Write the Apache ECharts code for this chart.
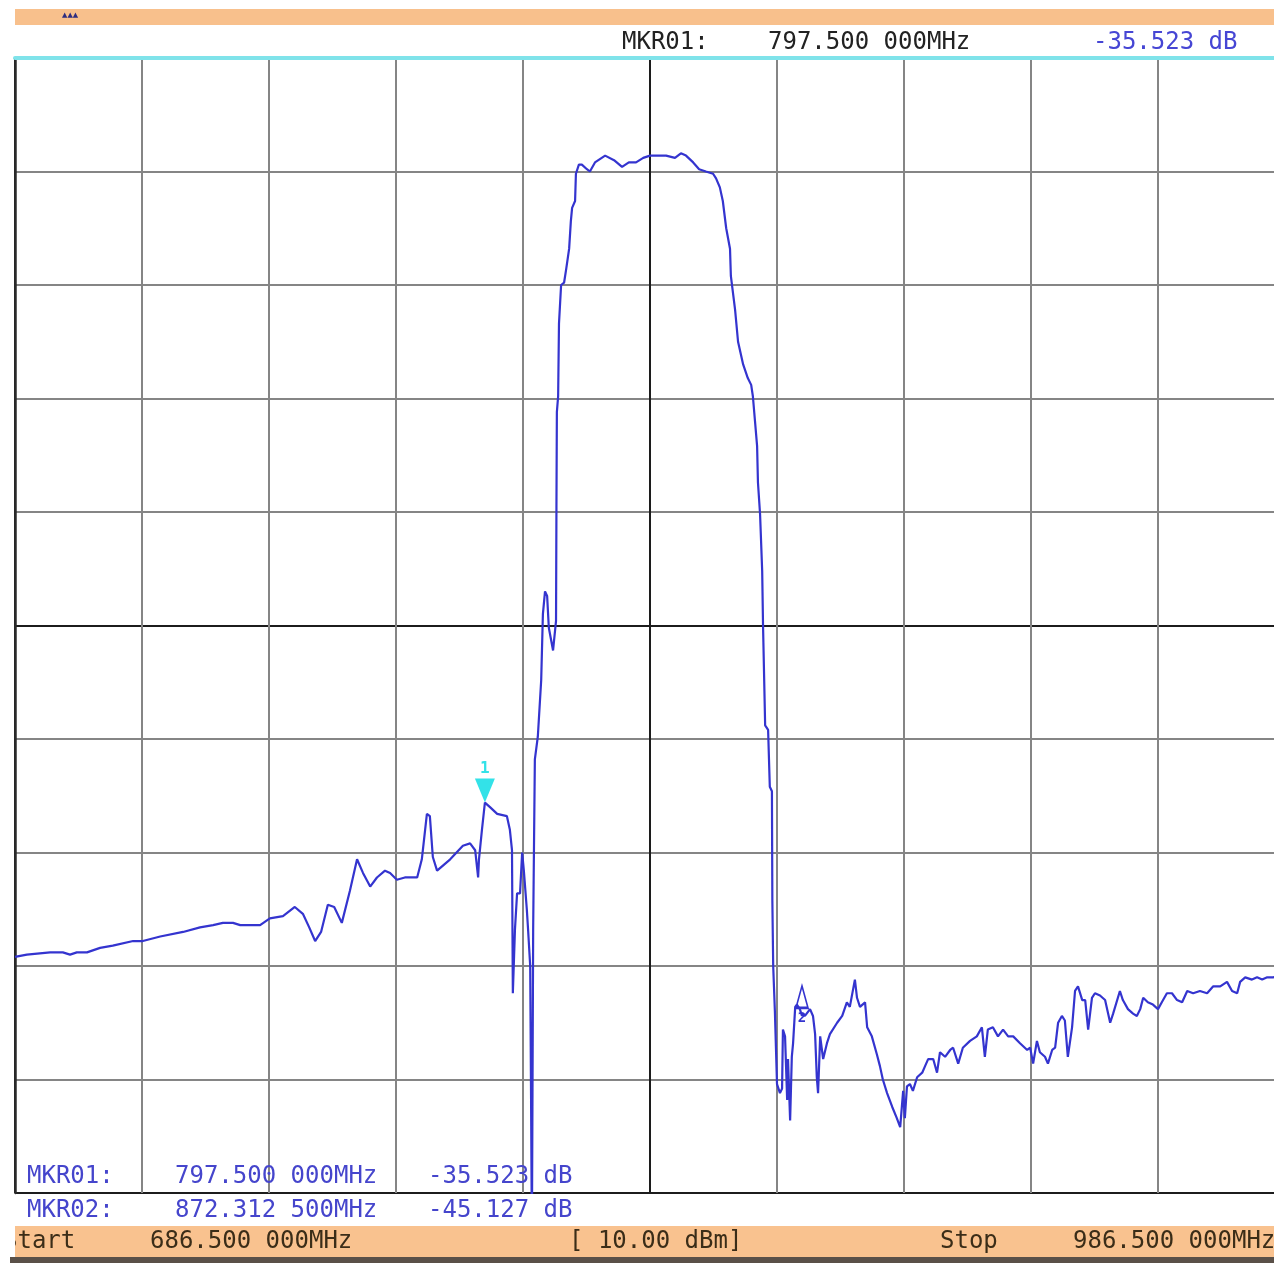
<!DOCTYPE html>
<html><head><meta charset="utf-8">
<script src="https://cdn.jsdelivr.net/npm/echarts/dist/echarts.min.js"></script>
<style>html,body{margin:0;padding:0;background:#fff;overflow:hidden}#c{width:1274px;height:1263px}</style>
</head><body><div id="c"></div>
<script>
// Trace (frequency in MHz, level in dB)
const freqMHz = [
686.5,689.3,694.8,697.8,699.5,701.1,703.5,706.6,709.6,714.4,
716.7,720.8,726.2,730.2,733.3,735.6,738.0,739.7,744.4,746.7,
749.8,752.6,754.5,756.0,757.4,758.8,760.4,761.9,763.7,765.6,
767.3,768.7,770.4,772.0,773.9,775.1,776.7,778.6,781.5,782.6,
783.8,784.5,785.2,786.2,789.3,792.3,794.0,795.2,795.9,796.1,
796.8,797.5,798.7,800.4,802.7,803.4,803.9,804.1,804.6,805.1,
805.8,806.3,806.7,807.4,807.7,808.2,808.4,808.6,808.9,809.3,
810.0,810.8,811.2,811.7,812.2,812.6,813.6,814.3,814.4,814.5,
814.8,815.0,815.5,816.2,816.7,817.4,817.8,818.1,818.8,819.0,
819.7,820.4,821.6,822.3,823.5,825.9,828.0,829.9,831.5,833.2,
834.9,836.5,840.3,842.4,843.8,845.0,846.7,848.1,849.7,851.4,
852.1,853.0,853.7,854.5,855.4,855.6,856.6,857.3,858.5,859.6,
860.4,860.8,861.3,861.8,862.0,862.5,863.0,863.2,863.7,864.4,
864.8,865.3,865.4,865.6,866.0,866.5,867.2,867.7,867.9,868.4,
868.9,869.1,869.6,870.0,870.3,870.8,871.2,871.9,872.4,872.6,
873.1,874.3,875.0,875.5,875.9,876.2,876.7,877.4,878.3,879.0,
880.7,881.9,883.0,883.7,884.9,885.4,886.1,887.3,887.8,888.9,
890.1,890.8,891.5,892.5,893.7,894.8,895.6,896.3,896.7,897.2,
897.9,898.6,899.6,900.8,901.5,902.2,903.4,904.3,905.0,906.2,
907.4,908.1,909.3,910.4,912.1,913.7,914.9,915.6,916.3,917.5,
918.7,919.9,921.1,922.3,923.9,925.6,926.3,927.0,927.9,928.6,
929.8,930.5,931.5,932.2,932.9,933.8,934.5,935.2,936.2,936.9,
937.6,938.6,939.3,940.0,940.9,941.6,942.8,944.0,945.2,945.9,
947.5,948.2,949.4,950.6,951.5,952.3,953.0,954.1,955.3,956.5,
957.4,958.6,959.8,961.0,962.2,963.4,964.8,966.4,968.1,969.5,
971.2,972.8,974.0,975.2,975.9,977.1,978.7,979.9,981.1,982.3,
983.7,986.5
];
const levelDb = [
-39.6,-39.5,-39.4,-39.4,-39.5,-39.4,-39.4,-39.2,-39.1,-38.9,
-38.9,-38.7,-38.5,-38.3,-38.2,-38.1,-38.1,-38.2,-38.2,-37.9,
-37.8,-37.4,-37.7,-38.3,-38.9,-38.5,-37.3,-37.4,-38.1,-36.7,
-35.3,-35.9,-36.5,-36.1,-35.8,-35.9,-36.2,-36.1,-36.1,-35.3,
-33.3,-33.4,-35.2,-35.8,-35.3,-34.7,-34.6,-34.9,-36.1,-35.3,
-34.0,-32.8,-33.0,-33.3,-33.4,-34.0,-34.9,-41.2,-38.4,-36.8,
-36.8,-35.0,-35.8,-37.5,-38.4,-40.0,-45.7,-52.0,-38.4,-30.9,
-29.9,-27.4,-24.5,-23.5,-23.7,-25.1,-26.1,-24.8,-19.8,-15.6,
-14.9,-11.7,-10.0,-9.9,-9.3,-8.4,-7.2,-6.6,-6.3,-5.1,
-4.7,-4.7,-4.9,-5.0,-4.6,-4.3,-4.5,-4.8,-4.6,-4.6,
-4.4,-4.3,-4.3,-4.4,-4.2,-4.3,-4.6,-4.9,-5.0,-5.1,
-5.3,-5.7,-6.3,-7.5,-8.4,-9.6,-11.1,-12.5,-13.5,-14.1,
-14.4,-14.9,-16.0,-17.1,-18.7,-20.1,-22.6,-25.0,-29.4,-29.6,
-32.1,-32.3,-37.1,-40.0,-42.0,-45.2,-45.6,-45.4,-42.8,-43.1,
-45.9,-44.1,-46.8,-44.0,-43.4,-41.8,-41.7,-41.9,-42.2,-42.1,
-42.2,-41.9,-42.2,-43.0,-44.9,-45.6,-43.1,-44.1,-43.4,-43.0,
-42.5,-42.2,-41.6,-41.8,-40.6,-41.4,-41.8,-41.6,-42.7,-43.1,
-43.9,-44.4,-45.0,-45.6,-46.2,-46.7,-47.1,-45.5,-46.7,-45.3,
-45.2,-45.5,-44.9,-44.7,-44.4,-44.1,-44.1,-44.7,-43.8,-44.0,
-43.7,-43.6,-44.3,-43.6,-43.3,-43.1,-42.7,-44.0,-42.8,-42.7,
-43.1,-42.8,-43.1,-43.1,-43.4,-43.7,-43.6,-44.3,-43.3,-43.8,
-44.0,-44.3,-43.7,-43.6,-42.5,-42.2,-42.4,-44.0,-42.7,-41.1,
-40.9,-41.5,-41.5,-42.8,-41.4,-41.2,-41.3,-41.5,-42.5,-42.1,
-41.1,-41.5,-41.9,-42.1,-42.2,-41.9,-41.4,-41.6,-41.7,-41.9,
-41.6,-41.2,-41.2,-41.5,-41.6,-41.1,-41.2,-41.1,-41.2,-40.9,
-40.9,-40.7,-41.1,-41.2,-40.7,-40.5,-40.6,-40.5,-40.6,-40.5,
-40.5,-40.4
];
// Markers and instrument readouts
const markerNames = ['MKR01:', 'MKR02:'];
const markerLabels = ['1', '2'];
const markerFreqMHz = [797.5, 872.3125];
const markerFreqText = ['797.500 000MHz', '872.312 500MHz'];
const markerLevelText = ['-35.523 dB', '-45.127 dB'];
const startLabel = 'Start', startText = '686.500 000MHz';
const stopLabel = 'Stop', stopText = '986.500 000MHz';
const refText = '[ 10.00 dBm]';
const spanStart = 686.5;
// the screen cuts the last ~2.6 MHz of the 300 MHz span
const visibleSpan = 297.4;

const chart = echarts.init(document.getElementById('c'), null, {renderer: 'canvas'});
const traceBlue = '#3434cf';
const gray = '#858585', dark = '#1c1c1c', none = 'rgba(0,0,0,0)';
const font = '24px "DejaVu Sans Mono", "Liberation Mono", monospace';

function nearestIndex(f) {
  let best = 0;
  for (let i = 1; i < freqMHz.length; i++) {
    if (Math.abs(freqMHz[i] - f) < Math.abs(freqMHz[best] - f)) best = i;
  }
  return best;
}
const m1 = nearestIndex(markerFreqMHz[0]);
const m2 = nearestIndex(markerFreqMHz[1]);

function txt(x, y, s, fill, extra) {
  return Object.assign({
    type: 'text', x: x, y: y, z: 100,
    style: { text: s, font: font, fill: fill, verticalAlign: 'middle', textVerticalAlign: 'middle' }
  }, extra || {});
}

const option = {
  backgroundColor: '#ffffff',
  animation: false,
  grid: { left: 15, top: 58, right: 0, bottom: 70, containLabel: false },
  xAxis: [
    { type: 'value', min: spanStart, max: spanStart + visibleSpan, position: 'bottom',
      axisLine: { show: true, lineStyle: { color: '#2a2a2a', width: 2.5 } },
      axisTick: { show: false }, axisLabel: { show: false }, splitLine: { show: false } },
    { type: 'value', min: 0, max: visibleSpan, interval: 30, position: 'top',
      axisLine: { show: true, onZero: false, lineStyle: { color: '#7fe3ea', width: 4 } },
      axisTick: { show: false }, axisLabel: { show: false },
      splitLine: { show: true, lineStyle: { width: 2,
        color: [dark, gray, gray, gray, gray, dark, gray, gray, gray, gray, none] } } }
  ],
  yAxis: [
    { type: 'value', min: -50, max: 0, interval: 5,
      axisLine: { show: true, onZero: false, lineStyle: { color: '#2a2a2a', width: 2.5 } },
      axisTick: { show: false }, axisLabel: { show: false },
      splitLine: { show: true, lineStyle: { width: 2,
        color: [dark, gray, gray, gray, gray, dark, gray, gray, gray, gray, none] } } }
  ],
  series: [{
    type: 'line', xAxisIndex: 0, yAxisIndex: 0,
    data: freqMHz.map((f, i) => [f, levelDb[i]]),
    showSymbol: false, symbol: 'none', clip: true,
    lineStyle: { color: traceBlue, width: 2.2 },
    z: 5,
    markPoint: {
      animation: false,
      data: [
        { coord: [freqMHz[m1], levelDb[m1]],
          symbol: 'path://M0,0L20,0L10,24Z', symbolSize: [20, 24], symbolOffset: [0, -12],
          itemStyle: { color: '#33e2e8' },
          label: { show: true, formatter: markerLabels[0], position: 'top', distance: 2,
                   color: '#33e2e8', fontSize: 16, fontWeight: 'bold', fontFamily: 'DejaVu Sans Mono' } },
        { coord: [freqMHz[m2], levelDb[m2]],
          symbol: 'path://M10,0L20,24L0,24Z', symbolSize: [12, 22], symbolOffset: [0, -19],
          itemStyle: { color: 'rgba(0,0,0,0)', borderColor: traceBlue, borderWidth: 2 },
          label: { show: true, formatter: markerLabels[1], position: 'bottom', distance: 2,
                   color: traceBlue, fontSize: 14, fontWeight: 'bold', fontFamily: 'DejaVu Sans Mono' } }
      ]
    }
  }],
  graphic: [
    { type: 'rect', z: 90, shape: { x: 15, y: 9, width: 1270, height: 16 }, style: { fill: '#f8c08c' } },
    { type: 'text', z: 100, x: 62, y: 15, style: { text: '▲▲▲', font: 'bold 7px "DejaVu Sans"', fill: '#2d2d80', verticalAlign: 'middle', textVerticalAlign: 'middle' } },
    txt(622, 43, markerNames[0], '#222222'),
    txt(768, 43, markerFreqText[0], '#222222'),
    txt(1093, 43, markerLevelText[0], '#4646d4'),
    txt(27, 1177, markerNames[0], '#4545cc'),
    txt(175, 1177, markerFreqText[0], '#4545cc'),
    txt(428, 1177, markerLevelText[0], '#4545cc'),
    txt(27, 1211, markerNames[1], '#4545cc'),
    txt(175, 1211, markerFreqText[1], '#4545cc'),
    txt(428, 1211, markerLevelText[1], '#4545cc'),
    { type: 'rect', z: 90, shape: { x: 10, y: 1226, width: 1270, height: 31 }, style: { fill: '#f9c28f' } },
    { type: 'rect', z: 90, shape: { x: 10, y: 1257, width: 1270, height: 6 }, style: { fill: '#5a5048' } },
    txt(3, 1242, startLabel, '#3b2d18'),
    { type: 'rect', z: 101, shape: { x: 0, y: 1226, width: 15, height: 31 }, style: { fill: '#ffffff' } },
    txt(150, 1242, startText, '#3b2d18'),
    txt(569, 1242, refText, '#3b2d18'),
    txt(940, 1242, stopLabel, '#3b2d18'),
    txt(1073, 1242, stopText, '#3b2d18')
  ]
};
chart.setOption(option);
</script>
</body></html>
